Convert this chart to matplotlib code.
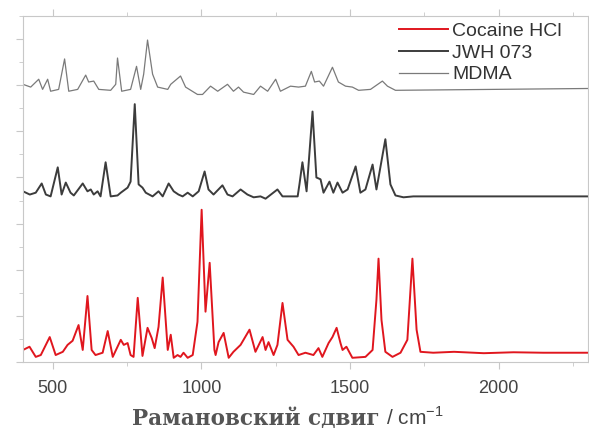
import matplotlib
matplotlib.use("Agg")
from matplotlib import pyplot as plt
from matplotlib.ticker import MultipleLocator, NullFormatter

# Spectra, offset vertically (wavenumber in cm-1, intensity in arbitrary units)
cocaine_x = [400, 422, 443, 460, 490, 510, 534, 550, 567, 587, 601, 617, 631, 644, 668, 685, 702,
             729, 739, 752, 762, 772, 786, 802, 819, 833, 843, 856, 870, 887, 897, 907, 920, 930,
             940, 954, 971, 987, 1001, 1014, 1028, 1044, 1048, 1058, 1075, 1092, 1108, 1132, 1162,
             1182, 1206, 1216, 1226, 1243, 1256, 1273, 1290, 1310, 1327, 1350, 1377, 1394, 1407,
             1428, 1441, 1455, 1468, 1475, 1488, 1508, 1552, 1576, 1589, 1596, 1606, 1619, 1643,
             1670, 1693, 1710, 1724, 1737, 1780, 1850, 1950, 2050, 2150, 2310]
cocaine_y = [0.26, 0.33, 0.11, 0.15, 0.54, 0.15, 0.22, 0.37, 0.46, 0.80, 0.26, 1.43, 0.26, 0.15, 0.20,
             0.67, 0.11, 0.48, 0.37, 0.41, 0.15, 0.11, 1.39, 0.13, 0.74, 0.52, 0.30, 0.76, 1.83, 0.26,
             0.59, 0.09, 0.15, 0.11, 0.20, 0.09, 0.15, 0.87, 3.30, 1.09, 2.15, 0.26, 0.15, 0.43, 0.63,
             0.09, 0.22, 0.37, 0.70, 0.22, 0.54, 0.26, 0.43, 0.15, 0.37, 1.28, 0.48, 0.33, 0.15, 0.20,
             0.15, 0.30, 0.11, 0.41, 0.54, 0.74, 0.41, 0.26, 0.33, 0.09, 0.11, 0.26, 1.35, 2.24, 0.91,
             0.22, 0.11, 0.20, 0.48, 2.24, 0.70, 0.22, 0.20, 0.22, 0.19, 0.21, 0.20, 0.20]

jwh_x = [400, 423, 443, 463, 477, 493, 517, 530, 544, 560, 571, 601, 617, 628, 638, 651, 661, 678,
         695, 718, 729, 752, 762, 776, 789, 802, 813, 836, 856, 870, 890, 907, 923, 937, 954, 971,
         991, 1011, 1024, 1041, 1071, 1088, 1105, 1132, 1155, 1176, 1199, 1216, 1256, 1273, 1324,
         1330, 1340, 1354, 1374, 1387, 1401, 1411, 1431, 1444, 1458, 1475, 1492, 1519, 1535, 1552,
         1576, 1589, 1619, 1636, 1653, 1680, 1713, 2310]
jwh_y = [3.70, 3.63, 3.67, 3.87, 3.63, 3.59, 4.22, 3.63, 3.89, 3.67, 3.61, 3.87, 3.70, 3.74, 3.63,
         3.70, 3.59, 4.33, 3.59, 3.61, 3.67, 3.78, 3.91, 5.59, 3.85, 3.78, 3.67, 3.59, 3.70, 3.59,
         3.87, 3.70, 3.63, 3.59, 3.67, 3.59, 3.70, 4.13, 3.74, 3.63, 3.83, 3.63, 3.59, 3.74, 3.63,
         3.57, 3.59, 3.54, 3.74, 3.59, 3.59, 3.85, 4.33, 3.70, 5.43, 4.00, 3.96, 3.67, 3.91, 3.67,
         3.89, 3.67, 3.74, 4.24, 3.67, 3.74, 4.28, 3.74, 4.83, 3.85, 3.61, 3.57, 3.59, 3.59]

mdma_x = [400, 426, 453, 466, 483, 493, 520, 540, 554, 584, 611, 621, 638, 655, 695, 712, 718, 732,
          762, 782, 796, 806, 819, 836, 853, 887, 897, 930, 947, 987, 1004, 1031, 1055, 1088, 1108,
          1125, 1142, 1176, 1199, 1223, 1250, 1266, 1300, 1327, 1350, 1370, 1381, 1397, 1411, 1441,
          1461, 1485, 1508, 1529, 1569, 1609, 1626, 1653, 2310]
mdma_y = [6.02, 5.96, 6.13, 5.91, 6.13, 5.87, 5.91, 6.57, 5.87, 5.91, 6.22, 6.07, 6.09, 5.91, 5.89,
          6.02, 6.59, 5.87, 5.91, 6.41, 5.91, 6.24, 6.98, 6.24, 5.96, 5.91, 6.02, 6.20, 5.96, 5.80,
          5.80, 5.98, 5.87, 6.02, 5.87, 5.96, 5.85, 5.80, 5.98, 5.87, 6.13, 5.87, 5.98, 5.96, 5.98,
          6.30, 6.07, 6.09, 5.98, 6.39, 6.07, 5.98, 5.96, 5.89, 5.91, 6.09, 5.98, 5.89, 5.93]

labels = ["Cocaine HCl", "JWH 073", "MDMA"]

fig = plt.figure(figsize=(5.89, 4.34), dpi=100)
ax = fig.add_axes([0.039, 0.166, 0.960, 0.797])

ax.plot(cocaine_x, cocaine_y, color="#e0161e", lw=1.4, label=labels[0])
ax.plot(jwh_x, jwh_y, color="#3c3c3c", lw=1.4, label=labels[1])
ax.plot(mdma_x, mdma_y, color="#7a7a7a", lw=0.9, label=labels[2])

ax.set_xlim(400, 2302)
ax.set_ylim(0, 7.5)

ax.xaxis.set_major_locator(MultipleLocator(500))
ax.xaxis.set_minor_locator(MultipleLocator(250))
ax.yaxis.set_major_locator(MultipleLocator(1))
ax.yaxis.set_minor_locator(MultipleLocator(0.5))
ax.yaxis.set_major_formatter(NullFormatter())

for s in ax.spines.values():
    s.set_color("#c8c8c8")
    s.set_linewidth(0.8)
ax.tick_params(which="both", direction="out", color="#c8c8c8", top=True, right=True)
ax.tick_params(which="major", length=5, width=0.8)
ax.tick_params(which="minor", length=3, width=0.6)
ax.tick_params(axis="x", labelsize=13, labelcolor="#444444", pad=8)
for t in ax.get_xticklabels():
    t.set_fontfamily("Liberation Sans")

leg = ax.legend(loc="upper right", frameon=False, prop={"family": "Liberation Sans", "size": 14},
                handlelength=2.5, handletextpad=0.25, labelspacing=0.22,
                borderpad=0, borderaxespad=0,
                bbox_to_anchor=(562 / 589, 1 - 22 / 434), bbox_transform=fig.transFigure,
                labelcolor="#333333")

# x label: Cyrillic part in bold serif, unit in sans
fig.text(380 / 589, 1 - 425 / 434, "Рамановский сдвиг", ha="right", va="baseline",
         family="DejaVu Serif", weight="bold", size=15.5, color="#555555")
fig.text(386 / 589, 1 - 425 / 434, "/ cm$^{\\mathregular{-1}}$", ha="left", va="baseline",
         family="Liberation Sans", size=15, color="#444444")

fig.savefig("out.png", dpi=100)
